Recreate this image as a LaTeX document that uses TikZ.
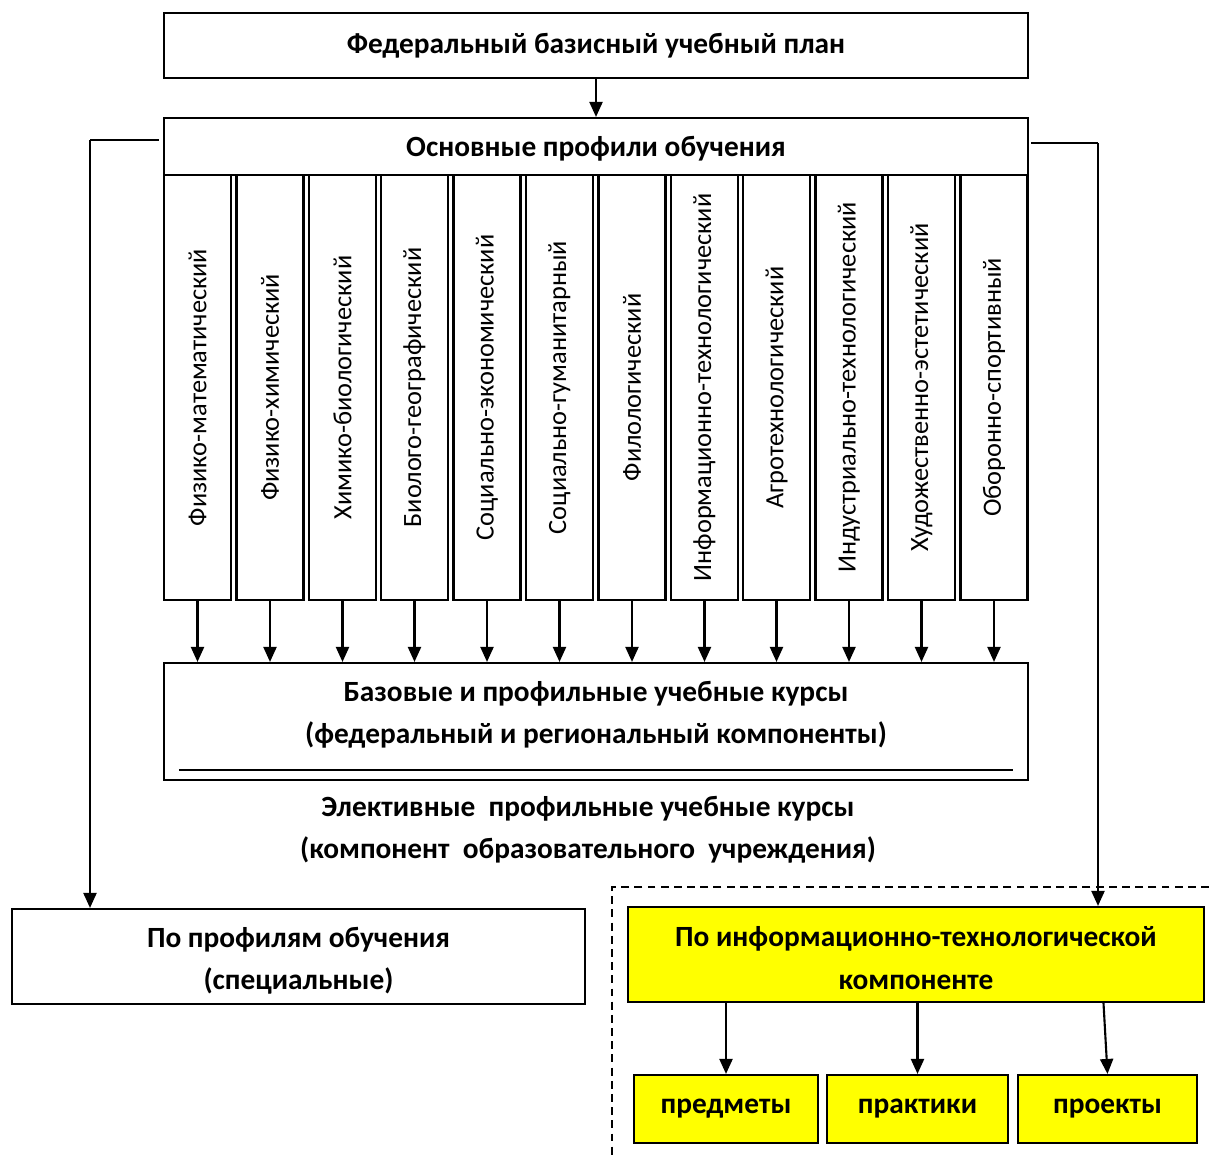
\documentclass[tikz,border=0pt]{standalone}
\usepackage{fontspec}
\setmainfont{Carlito}
\usepackage{tikz}
\usetikzlibrary{arrows.meta}
\definecolor{infoyellow}{RGB}{255,255,0}
\tikzset{
    every node/.style={align=center, inner sep=0pt,
    	font=\bfseries\fontsize{16.7}{24}\selectfont}
}
\tikzset{
    box/.style={draw, line width=1.2pt, rectangle},
    profbox/.style={box, rotate=90, minimum width=8.5cm, minimum height=1.34cm,
    	font=\mdseries\fontsize{15}{18}\selectfont},
    yellowbox/.style={box, fill=infoyellow}
}
\tikzset{
    every edge/.append style={line width=1.2pt, -{Triangle[length=3mm, width=2.6mm]}}
}

\begin{document}
\begin{tikzpicture}
	\useasboundingbox (0cm, 0cm) rectangle (24.18cm, -23.2cm);
	\node (plan) [box, minimum width=17.28cm, minimum height=1.30cm] at (11.92cm, -0.91cm) {Федеральный базисный учебный план};
	\node (osn) [box, minimum width=17.28cm, minimum height=1.14cm] at (11.92cm, -2.93cm) {};
	\node (osntxt) at (11.92cm, -2.98cm) {Основные профили обучения};
	
	\node (p1) [profbox] at (3.95cm, -7.75cm) {Физико-математический};
	\node (p2) [profbox] at (5.40cm, -7.75cm) {Физико-химический};
	\node (p3) [profbox] at (6.85cm, -7.75cm) {Химико-биологический};
	\node (p4) [profbox] at (8.29cm, -7.75cm) {Биолого-географический};
	\node (p5) [profbox] at (9.74cm, -7.75cm) {Социально-экономический};
	\node (p6) [profbox] at (11.19cm, -7.75cm) {Социально-гуманитарный};
	\node (p7) [profbox] at (12.64cm, -7.75cm) {Филологический};
	\node (p8) [profbox] at (14.09cm, -7.75cm) {Информационно-технологический};
	\node (p9) [profbox] at (15.53cm, -7.75cm) {Агротехнологический};
	\node (p10) [profbox] at (16.98cm, -7.75cm) {Индустриально-технологический};
	\node (p11) [profbox] at (18.43cm, -7.75cm) {Художественно-эстетический};
	\node (p12) [profbox] at (19.88cm, -7.75cm) {Оборонно-спортивный};
	
	\node (base) [box, minimum width=17.28cm, minimum height=2.34cm] at (11.92cm, -14.43cm) {};
	\node (basetxt) at (11.92cm, -14.29cm) {Базовые и профильные учебные курсы\\(федеральный и региональный компоненты)};
	\node (elect) at (11.76cm, -16.60cm) {Элективные\ \ профильные учебные курсы\\(компонент\ \ образовательного\ \ учреждения)};
	
	\node (spec) [box, minimum width=11.46cm, minimum height=1.90cm] at (5.97cm, -19.13cm) {};
	\node (spectxt) at (5.97cm, -19.22cm) {По профилям обучения\\(специальные)};
	\node (info) [yellowbox, minimum width=11.52cm, minimum height=1.90cm] at (18.32cm, -19.09cm) {};
	\node (infotxt) at (18.32cm, -19.16cm) {По информационно-технологической\\компоненте};
	\node (predm) [yellowbox, minimum width=3.68cm, minimum height=1.36cm] at (14.52cm, -22.18cm) {предметы};
	\node (prakt) [yellowbox, minimum width=3.62cm, minimum height=1.36cm] at (18.35cm, -22.18cm) {практики};
	\node (proekt) [yellowbox, minimum width=3.58cm, minimum height=1.36cm] at (22.15cm, -22.18cm) {проекты};
	
	\coordinate (lt) at (1.80cm, -2.80cm);
	\coordinate (rt) at (21.96cm, -2.86cm);
	\coordinate (d1) at (24.18cm, -17.74cm);
	\coordinate (d2) at (12.24cm, -17.74cm);
	\coordinate (d3) at (12.24cm, -23.2cm);
	
	\draw (plan) edge (osn);
	\draw (p1.west) edge (p1.west |- base.north); \draw (p2.west) edge (p2.west |- base.north);
	\draw (p3.west) edge (p3.west |- base.north); \draw (p4.west) edge (p4.west |- base.north);
	\draw (p5.west) edge (p5.west |- base.north); \draw (p6.west) edge (p6.west |- base.north);
	\draw (p7.west) edge (p7.west |- base.north); \draw (p8.west) edge (p8.west |- base.north);
	\draw (p9.west) edge (p9.west |- base.north); \draw (p10.west) edge (p10.west |- base.north);
	\draw (p11.west) edge (p11.west |- base.north); \draw (p12.west) edge (p12.west |- base.north);
	
	\draw [line width=1.2pt] ([xshift=0.32cm, yshift=0.22cm]base.south west) -- ([xshift=-0.32cm, yshift=0.22cm]base.south east);
	
	\draw [line width=1.2pt] ([xshift=-0.08cm]osn.west |- lt) -- (lt);
	\draw (lt) edge (lt |- spec.north);
	\draw [line width=1.2pt] ([xshift=0.04cm]osn.east |- rt) -- (rt);
	\draw (rt) edge (rt |- info.north);
	
	\draw (predm.north |- info.south) edge (predm.north);
	\draw (prakt.north |- info.south) edge (prakt.north);
	\draw ([xshift=-0.08cm]proekt.north |- info.south) edge (proekt.north);
	
	\draw [line width=1pt, dash pattern=on 4.5pt off 3pt] (d1) -- (d2) -- (d3);
\end{tikzpicture}
\end{document}
